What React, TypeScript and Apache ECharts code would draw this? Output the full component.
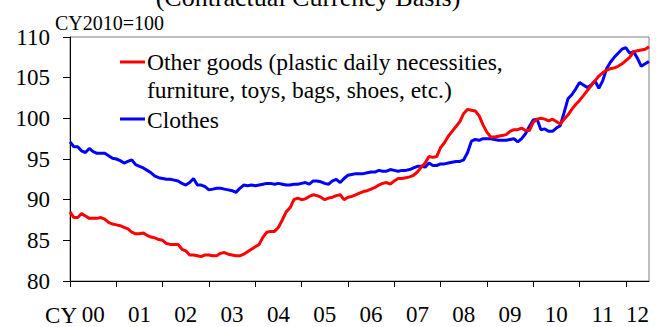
import React, { useEffect, useRef } from "react";
import * as echarts from "echarts";

const startYear = 2000;
const monthCount = 151;
const months: string[] = Array.from({ length: monthCount }, (_, i) => {
  const y = startYear + Math.floor(i / 12);
  const m = (i % 12) + 1;
  return `${y}-${m < 10 ? "0" + m : m}`;
});

const otherGoods: number[] = [
  88.5, 87.8, 87.8, 88.3, 88.0, 87.7, 87.7, 87.7, 87.8, 87.6,
  87.2, 87.0, 86.9, 86.8, 86.6, 86.4, 86.0, 85.8, 85.8, 85.9,
  85.6, 85.4, 85.3, 85.1, 85.0, 84.6, 84.5, 84.5, 84.5, 83.9,
  83.7, 83.2, 83.2, 83.1, 83.0, 83.2, 83.2, 83.1, 83.1, 83.4,
  83.5, 83.3, 83.2, 83.1, 83.1, 83.3, 83.6, 83.9, 84.2, 84.5,
  85.4, 86.0, 86.1, 86.1, 86.6, 87.5, 88.5, 89.0, 90.0, 90.2,
  90.0, 90.1, 90.4, 90.6, 90.5, 90.3, 90.0, 90.2, 90.3, 90.5,
  90.6, 90.0, 90.3, 90.4, 90.6, 90.8, 91.0, 91.1, 91.3, 91.5,
  91.8, 92.0, 92.1, 91.9, 92.3, 92.6, 92.6, 92.7, 92.8, 93.0,
  93.4, 94.0, 94.5, 95.3, 95.2, 95.3, 96.4, 97.0, 97.8, 98.4,
  99.0, 99.6, 100.6, 101.1, 101.0, 100.9, 100.3, 99.2, 98.3, 97.7,
  97.7, 97.8, 97.9, 98.0, 98.4, 98.6, 98.6, 98.8, 98.5, 98.5,
  99.5, 99.9, 100.0, 99.9, 99.7, 99.9, 99.6, 99.3, 99.9, 100.4,
  101.1, 101.7, 102.2, 102.8, 103.4, 104.0, 104.6, 105.2, 105.6, 105.9,
  106.1, 106.2, 106.4, 106.7, 107.1, 107.5, 108.2, 108.3, 108.4, 108.5,
  108.8,
];

const clothes: number[] = [
  97.1, 96.5, 96.5, 96.0, 95.8, 96.3, 95.9, 95.7, 95.7, 95.7,
  95.4, 95.1, 95.0, 94.8, 94.5, 94.7, 94.9, 94.3, 94.1, 93.9,
  93.6, 93.3, 92.9, 92.7, 92.6, 92.5, 92.5, 92.4, 92.3, 92.0,
  91.8, 92.1, 92.6, 91.8, 91.8, 91.6, 91.2, 91.3, 91.4, 91.4,
  91.3, 91.2, 91.1, 90.9, 91.4, 91.8, 91.7, 91.8, 91.7, 91.8,
  91.9, 92.0, 92.0, 91.9, 92.0, 91.9, 91.8, 91.8, 91.9, 91.9,
  92.0, 92.1, 91.9, 92.3, 92.3, 92.2, 92.0, 91.9, 92.3, 92.5,
  92.1, 92.6, 93.0, 93.1, 93.2, 93.2, 93.2, 93.3, 93.4, 93.4,
  93.6, 93.5, 93.5, 93.7, 93.6, 93.5, 93.6, 93.6, 93.7, 93.9,
  94.1, 94.1, 94.0, 94.5, 94.2, 94.2, 94.4, 94.4, 94.5, 94.6,
  94.7, 94.7, 94.9, 95.8, 97.2, 97.4, 97.3, 97.5, 97.5, 97.5,
  97.4, 97.3, 97.3, 97.3, 97.4, 97.5, 97.1, 97.5, 98.1, 99.0,
  99.8, 99.9, 98.6, 98.7, 98.4, 98.4, 98.8, 99.1, 100.7, 102.4,
  102.9, 103.6, 104.4, 104.1, 103.8, 104.1, 104.6, 103.7, 104.6, 106.1,
  106.9, 107.5, 108.0, 108.5, 108.7, 108.0, 108.2, 107.4, 106.4, 106.7,
  107.0,
];

const seriesNames = [
  "Other goods (plastic daily necessities,\nfurniture, toys, bags, shoes, etc.)",
  "Clothes",
];
const legendLines = [
  ["Other goods (plastic daily necessities,", "furniture, toys, bags, shoes, etc.)"],
  ["Clothes"],
];
const titleText = "(Contractual Currency Basis)";
const unitText = "CY2010=100";
const xPrefix = "CY";
const extraLabelIndex = 147;

const FONT = "Liberation Serif";

export default function App() {
  const ref = useRef<HTMLDivElement>(null);
  useEffect(() => {
    if (!ref.current) return;
    const chart = echarts.init(ref.current, null, { renderer: "svg" });
    const txt = (text: string, x: number, y: number, size: number, align: string) => ({
      type: "text",
      x,
      y,
      style: {
        text,
        fontFamily: FONT,
        fontSize: size,
        fill: "#000",
        align,
        verticalAlign: "middle",
      },
    });
    const option: any = {
      animation: false,
      backgroundColor: "#ffffff",
      textStyle: { fontFamily: FONT },
      grid: {
        left: 70,
        right: 13,
        top: 37,
        bottom: 46,
        show: true,
        borderColor: "#7f7f7f",
        borderWidth: 1,
      },
      xAxis: {
        type: "category",
        data: months,
        boundaryGap: false,
        axisLine: { lineStyle: { color: "#000", width: 1 } },
        axisTick: {
          interval: (idx: number) => idx % 12 === 0,
          length: 6,
          lineStyle: { color: "#000" },
        },
        axisLabel: {
          interval: (idx: number) => idx % 12 === 6 || idx === extraLabelIndex,
          formatter: (v: string) => v.slice(2, 4),
          fontFamily: FONT,
          fontSize: 23,
          color: "#000",
          margin: 22,
        },
        splitLine: { show: false },
      },
      yAxis: {
        type: "value",
        min: 80,
        max: 110,
        interval: 5,
        axisLine: { show: true, lineStyle: { color: "#000", width: 1 } },
        axisTick: { show: true, length: 7, lineStyle: { color: "#000" } },
        axisLabel: {
          fontFamily: FONT,
          fontSize: 23,
          color: "#000",
          margin: 20,
        },
        splitLine: { show: false },
      },
      series: [
        {
          name: seriesNames[0],
          type: "line",
          data: otherGoods,
          symbol: "none",
          lineStyle: { color: "#ff0000", width: 3 },
          itemStyle: { color: "#ff0000" },
          z: 3,
        },
        {
          name: seriesNames[1],
          type: "line",
          data: clothes,
          symbol: "none",
          lineStyle: { color: "#0000ff", width: 3 },
          itemStyle: { color: "#0000ff" },
          z: 2,
        },
      ],
      graphic: [
        txt(titleText, 308, -3, 26, "center"),
        txt(unitText, 55, 23, 20, "left"),
        txt(xPrefix, 77, 315, 23, "right"),
        {
          type: "line",
          shape: { x1: 120, y1: 62, x2: 145, y2: 62 },
          style: { stroke: "#ff0000", lineWidth: 3 },
        },
        txt(legendLines[0][0], 147, 62, 23.5, "left"),
        txt(legendLines[0][1], 147, 90, 23.5, "left"),
        {
          type: "line",
          shape: { x1: 120, y1: 119, x2: 145, y2: 119 },
          style: { stroke: "#0000ff", lineWidth: 3 },
        },
        txt(legendLines[1][0], 147, 120, 23.5, "left"),
      ],
    };
    chart.setOption(option);
    return () => chart.dispose();
  }, []);
  return (
    <div
      ref={ref}
      style={{ position: "fixed", left: 0, top: 0, width: 662, height: 327, background: "#fff" }}
    />
  );
}
